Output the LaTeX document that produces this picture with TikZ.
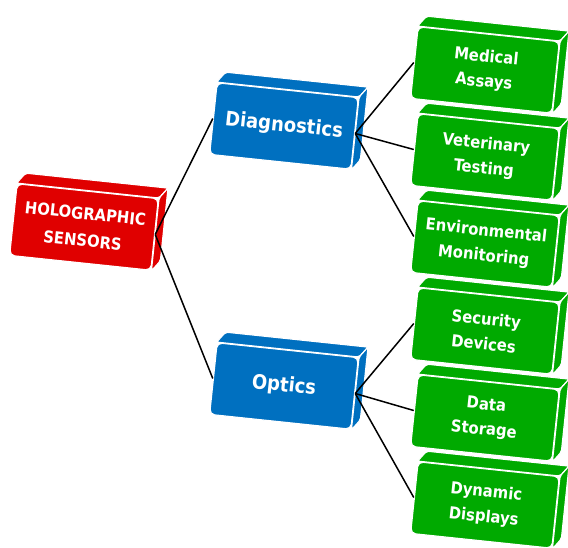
\documentclass[tikz,border=0pt]{standalone}
\usepackage{fontspec}
\setmainfont{DejaVu Sans Condensed}
\usetikzlibrary{calc}
\definecolor{holo-red}{RGB}{224,0,0}
\definecolor{holo-blue}{RGB}{0,112,192}
\definecolor{holo-green}{RGB}{0,170,0}
\tikzstyle{block}=[rectangle,rounded corners=5pt,rotate=-6,draw=white,line width=1.2pt,text=white,align=center,inner sep=0pt,minimum width=142pt,minimum height=72pt]
\tikzstyle{face}=[draw=white,line width=1.2pt,rounded corners=2pt]
\tikzstyle{link}=[black,line width=1.5pt]
\newcommand{\bigfont}{\fontsize{20}{24}\selectfont\bfseries}
\newcommand{\midfont}{\fontsize{16.5}{27}\selectfont\bfseries}
\newcommand{\smallfont}{\fontsize{16.5}{25}\selectfont\bfseries}
\pgfmathsetmacro{\dx}{9}
\pgfmathsetmacro{\dy}{-10} % y axis points down, so this is upwards
\newcommand{\drawfaces}[2]{
	% top face and right face of a block
	\filldraw[face,fill=#2] (#1.north west) -- ($(#1.north west)+(\dx,\dy)$) -- ($(#1.north east)+(\dx,\dy)$) -- (#1.north east) -- cycle;
	\filldraw[face,fill=#2] (#1.north east) -- ($(#1.north east)+(\dx,\dy)$) -- ($(#1.south east)+(\dx,\dy)$) -- (#1.south east) -- cycle;
}
\begin{document}
\begin{tikzpicture}[x=1pt,y=-1pt]
\useasboundingbox (0,0) rectangle (568,547);
% root
\node[block,fill=holo-red,font=\midfont] (sensors) at (84,227) {HOLOGRAPHIC\\SENSORS};
\drawfaces{sensors}{holo-red}
% branches
\node[block,fill=holo-blue,font=\bigfont] (diag) at (284,126) {Diagnostics};
\drawfaces{diag}{holo-blue}
\node[block,fill=holo-blue,font=\bigfont] (optics) at (284,386) {Optics};
\drawfaces{optics}{holo-blue}
% leaves
\node[block,fill=holo-green,font=\smallfont] (medical) at (485,70) {Medical\\Assays};
\drawfaces{medical}{holo-green}
\node[block,fill=holo-green,font=\smallfont] (vet) at (485,157) {Veterinary\\Testing};
\drawfaces{vet}{holo-green}
\node[block,fill=holo-green,font=\smallfont] (enviro) at (485,244) {Environmental\\Monitoring};
\drawfaces{enviro}{holo-green}
\node[block,fill=holo-green,font=\smallfont] (security) at (485,331) {Security\\Devices};
\drawfaces{security}{holo-green}
\node[block,fill=holo-green,font=\smallfont] (storage) at (485,418) {Data\\Storage};
\drawfaces{storage}{holo-green}
\node[block,fill=holo-green,font=\smallfont] (displays) at (485,505) {Dynamic\\Displays};
\drawfaces{displays}{holo-green}
% connectors
\draw[link] (sensors.east) -- (diag.west);
\draw[link] (sensors.east) -- (optics.west);
\foreach \leaf in {medical,vet,enviro} {
	\draw[link] (diag.east) -- (\leaf.west);
}
\foreach \leaf in {security,storage,displays} {
	\draw[link] (optics.east) -- (\leaf.west);
}
\end{tikzpicture}
\end{document}
